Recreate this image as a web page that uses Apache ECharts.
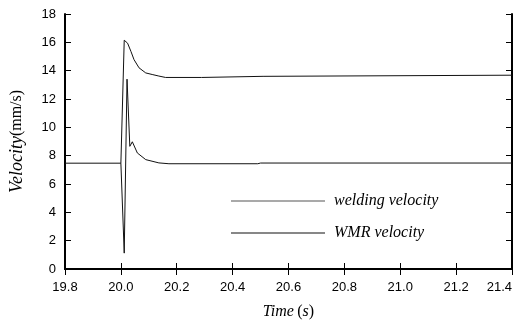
<!DOCTYPE html>
<html>
<head>
<meta charset="utf-8">
<script src="https://cdn.jsdelivr.net/npm/echarts@6/dist/echarts.min.js"></script>
<style>
  html, body { margin: 0; padding: 0; background: #fff; }
  #chart { width: 515px; height: 325px; }
</style>
</head>
<body>
<div id="chart"></div>
<script>
// welding velocity (lower line, with the spike)
const weldTime = [19.8, 20.0, 20.012, 20.022, 20.032, 20.041, 20.059, 20.089, 20.136, 20.172, 20.49, 20.5, 21.4];
const weldVel = [7.47, 7.47, 1.12, 13.4, 8.66, 8.98, 8.19, 7.72, 7.49, 7.43, 7.43, 7.48, 7.48];

// WMR velocity (upper line)
const wmrTime = [20.0, 20.012, 20.024, 20.036, 20.047, 20.065, 20.089, 20.112, 20.136, 20.16, 20.289, 20.292, 20.509, 20.512, 21.4];
const wmrVel = [7.47, 16.15, 15.94, 15.36, 14.78, 14.2, 13.84, 13.73, 13.62, 13.52, 13.52, 13.6, 13.6, 13.68, 13.68];

const xTicks = { min: 19.8, max: 21.4, interval: 0.2 };
const yTicks = { min: 0, max: 18, interval: 2 };

const pairs = (xs, ys) => xs.map((x, i) => [x, ys[i]]);

const LABEL_FONT = "'Liberation Sans', Arial, sans-serif";
const TITLE_FONT = "'Liberation Serif', 'Times New Roman', serif";

const chart = echarts.init(document.getElementById("chart"));

const axisLine = { show: true, lineStyle: { color: "#000", width: 2 } };
const axisTick = { show: true, inside: true, length: 6, lineStyle: { color: "#000", width: 1 } };

const option = {
  animation: false,
  backgroundColor: "#fff",
  grid: { left: 65, top: 14, width: 451, height: 257 },
  legend: {
    orient: "vertical",
    left: 226,
    top: 188,
    itemWidth: 94,
    itemHeight: 1,
    itemGap: 16,
    icon: "rect",
    textStyle: {
      fontFamily: TITLE_FONT,
      fontStyle: "italic",
      fontSize: 16,
      color: "#000",
      padding: [0, 0, 0, 4],
    },
    data: ["welding velocity", "WMR velocity"],
  },
  xAxis: [
    {
      type: "value",
      min: xTicks.min,
      max: xTicks.max,
      interval: xTicks.interval,
      axisLine,
      axisTick,
      splitLine: { show: false },
      axisLabel: {
        margin: 12,
        fontFamily: LABEL_FONT,
        fontSize: 13,
        color: "#000",
        alignMaxLabel: "right",
        formatter: (v) => v.toFixed(1),
      },
      name: "{i|Time} {n|(}{i|s}{n|)}",
      nameLocation: "middle",
      nameGap: 35,
      nameTextStyle: {
        rich: {
          i: { fontFamily: TITLE_FONT, fontStyle: "italic", fontSize: 16, color: "#000" },
          n: { fontFamily: TITLE_FONT, fontSize: 16, color: "#000" },
        },
      },
    },
    {
      type: "value",
      position: "top",
      min: xTicks.min,
      max: xTicks.max,
      interval: xTicks.interval,
      axisLine,
      axisTick,
      axisLabel: { show: false },
      splitLine: { show: false },
    },
  ],
  yAxis: [
    {
      type: "value",
      min: yTicks.min,
      max: yTicks.max,
      interval: yTicks.interval,
      axisLine,
      axisTick,
      splitLine: { show: false },
      axisLabel: { margin: 9, fontFamily: LABEL_FONT, fontSize: 13, color: "#000" },
      name: "{i|Velocity}{n|(mm/s)}",
      nameLocation: "middle",
      nameRotate: 90,
      nameGap: 39,
      nameTextStyle: {
        rich: {
          i: { fontFamily: TITLE_FONT, fontStyle: "italic", fontSize: 18, color: "#000" },
          n: { fontFamily: TITLE_FONT, fontSize: 16, color: "#000" },
        },
      },
    },
    {
      type: "value",
      position: "right",
      min: yTicks.min,
      max: yTicks.max,
      interval: yTicks.interval,
      axisLine,
      axisTick,
      axisLabel: { show: false },
      splitLine: { show: false },
    },
  ],
  series: [
    {
      name: "welding velocity",
      type: "line",
      showSymbol: false,
      itemStyle: { color: "#555" },
      lineStyle: { color: "#111", width: 1 },
      data: pairs(weldTime, weldVel),
    },
    {
      name: "WMR velocity",
      type: "line",
      showSymbol: false,
      itemStyle: { color: "#111" },
      lineStyle: { color: "#111", width: 1 },
      data: pairs(wmrTime, wmrVel),
    },
  ],
};

chart.setOption(option);
</script>
</body>
</html>
